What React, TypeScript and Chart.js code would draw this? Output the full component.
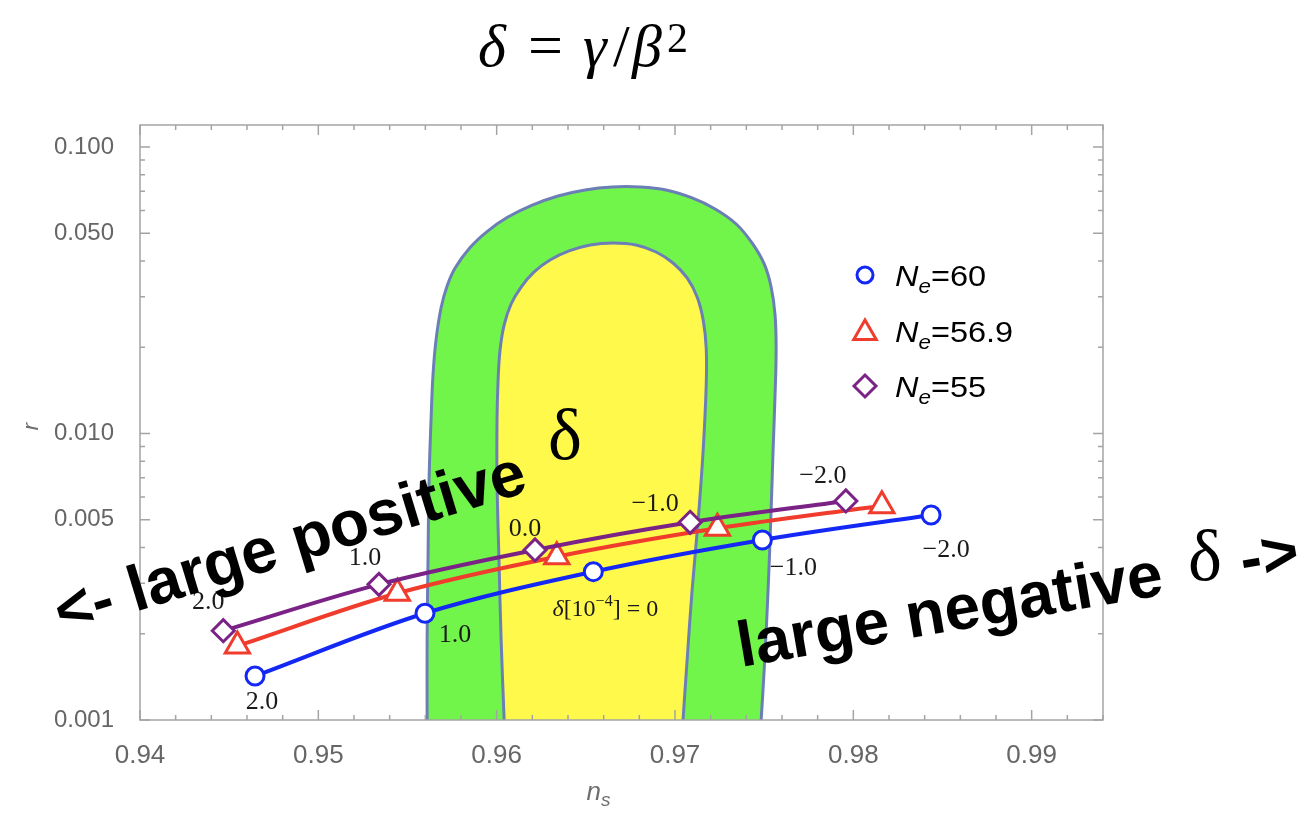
import { useEffect, useRef } from "react";
import { Chart, registerables } from "chart.js";

Chart.register(...registerables);

// delta in units of 1e-4 along each N_e trajectory
const deltaValues = [2.0, 1.0, 0.0, -1.0, -2.0];

// (n_s, r) predictions for N_e = 60, 56.9, 55
const nsNe60 = [0.94645, 0.95598, 0.96542, 0.9749, 0.98436];
const rNe60 = [0.001424, 0.002358, 0.003293, 0.00425, 0.005194];
const nsNe569 = [0.94546, 0.95443, 0.96337, 0.97238, 0.9816];
const rNe569 = [0.001813, 0.002769, 0.003715, 0.004667, 0.005598];
const nsNe55 = [0.94467, 0.9534, 0.96215, 0.97085, 0.97958];
const rNe55 = [0.002049, 0.002975, 0.003922, 0.004898, 0.005814];

// 95% CL region boundary (green)
const outerNs = [0.9561, 0.9561, 0.95615, 0.95621, 0.95632, 0.95643, 0.9566, 0.95688, 0.95722, 0.95767, 0.95851, 0.95946, 0.96058, 0.96193, 0.96344, 0.96496, 0.96647, 0.96804, 0.9695, 0.97096, 0.97225, 0.97343, 0.97432, 0.975, 0.97539, 0.97561, 0.97567, 0.97561, 0.9755, 0.97539, 0.97522, 0.975, 0.97483];
const outerR = [0.001, 0.0019024, 0.0036185, 0.0068814, 0.011145, 0.016005, 0.021206, 0.027418, 0.03272, 0.03781, 0.04457, 0.05067, 0.0567, 0.06246, 0.06745, 0.07078, 0.07251, 0.07251, 0.07078, 0.06638, 0.06076, 0.05385, 0.04623, 0.03905, 0.03245, 0.02592, 0.01956, 0.01362, 0.008757, 0.005407, 0.002843, 0.0014947, 0.001];

// 68% CL region boundary (yellow)
const innerNs = [0.96042, 0.96025, 0.96013, 0.96002, 0.96002, 0.96008, 0.96019, 0.96042, 0.96081, 0.96137, 0.9621, 0.96299, 0.96406, 0.96524, 0.96653, 0.96782, 0.96894, 0.96989, 0.97068, 0.97124, 0.97158, 0.97175, 0.97175, 0.97158, 0.9713, 0.97096, 0.97068, 0.97045];
const innerR = [0.001, 0.0019024, 0.0036185, 0.0068814, 0.011145, 0.015375, 0.01956, 0.02392, 0.02831, 0.03245, 0.03663, 0.04033, 0.04335, 0.0455, 0.04623, 0.0455, 0.043, 0.03936, 0.0349, 0.02995, 0.0249, 0.01988, 0.01477, 0.008757, 0.00499, 0.002843, 0.0016197, 0.001];

const xTicks = [0.94, 0.95, 0.96, 0.97, 0.98, 0.99];
const yTicks = [0.001, 0.005, 0.01, 0.05, 0.1];
const yMinorTicks = [0.002, 0.003, 0.004, 0.006, 0.007, 0.008, 0.009, 0.02, 0.03, 0.04, 0.06, 0.07, 0.08, 0.09];
const legendNe = ["60", "56.9", "55"];

const FRAME = "#a4a4a4";
const TICK_TEXT = "#666666";
const BLUE = "#1428f5";
const RED = "#f03c2c";
const PURPLE = "#7b2286";
const GREEN = "#72f54b";
const YELLOW = "#fff94c";
const EDGE = "#6b7fb6";

const SANS = '"Liberation Sans", Arial, sans-serif';
const SERIF = '"Liberation Serif", "Times New Roman", serif';

const toPoints = (xs: number[], ys: number[]) => xs.map((x, i) => ({ x, y: ys[i] }));

const fmtDelta = (v: number) => (v < 0 ? "\u2212" : "") + Math.abs(v).toFixed(1);

type Run = { t: string; font: string; dy?: number };

function runsWidth(ctx: CanvasRenderingContext2D, runs: Run[]) {
  let w = 0;
  for (const r of runs) {
    ctx.font = r.font;
    w += ctx.measureText(r.t).width;
  }
  return w;
}

function drawRuns(ctx: CanvasRenderingContext2D, runs: Run[], x: number, y: number, center: boolean, sx = 1) {
  ctx.save();
  ctx.translate(x, y);
  ctx.scale(sx, 1);
  ctx.textAlign = "left";
  ctx.textBaseline = "alphabetic";
  let cx = center ? -runsWidth(ctx, runs) / 2 : 0;
  for (const r of runs) {
    ctx.font = r.font;
    ctx.fillText(r.t, cx, r.dy || 0);
    cx += ctx.measureText(r.t).width;
  }
  ctx.restore();
}

function marker(ctx: CanvasRenderingContext2D, style: string, x: number, y: number, color: string) {
  ctx.save();
  ctx.strokeStyle = color;
  ctx.fillStyle = "#ffffff";
  ctx.lineWidth = 3;
  ctx.beginPath();
  if (style === "circle") {
    ctx.arc(x, y, 8, 0, Math.PI * 2);
  } else if (style === "triangle") {
    const r = 13;
    for (let i = 0; i < 3; i++) {
      const a = (i * 2 * Math.PI) / 3;
      const px = x + Math.sin(a) * r;
      const py = y - Math.cos(a) * r;
      if (i === 0) ctx.moveTo(px, py);
      else ctx.lineTo(px, py);
    }
    ctx.closePath();
  } else {
    const r = 11;
    ctx.moveTo(x - r, y);
    ctx.lineTo(x, y - r);
    ctx.lineTo(x + r, y);
    ctx.lineTo(x, y + r);
    ctx.closePath();
  }
  ctx.fill();
  ctx.stroke();
  ctx.restore();
}

// Fills the confidence regions beneath their outlines using the line's own path
const regionFill = {
  id: "regionFill",
  beforeDatasetDraw(chart: any, args: any) {
    const ds = chart.data.datasets[args.index];
    if (!ds.regionColor) return;
    const line = args.meta.dataset;
    const a = chart.chartArea;
    const ctx = chart.ctx as CanvasRenderingContext2D;
    ctx.save();
    ctx.beginPath();
    ctx.rect(a.left, a.top, a.right - a.left, a.bottom - a.top);
    ctx.clip();
    line.updateControlPoints(a, "x");
    ctx.beginPath();
    line.path(ctx);
    ctx.closePath();
    ctx.fillStyle = ds.regionColor;
    ctx.fill();
    ctx.restore();
  },
};

const decorations = {
  id: "decorations",
  afterDatasetsDraw(chart: any) {
    const ctx = chart.ctx as CanvasRenderingContext2D;
    const a = chart.chartArea;
    const xs = chart.scales.x;
    const ys = chart.scales.y;
    ctx.save();
    ctx.strokeStyle = FRAME;
    ctx.lineWidth = 1.5;
    ctx.beginPath();
    for (let k = 470; k <= 497; k++) {
      const px = xs.getPixelForValue(k / 500);
      const len = k % 5 === 0 ? 10 : 5;
      ctx.moveTo(px, a.bottom);
      ctx.lineTo(px, a.bottom - len);
      ctx.moveTo(px, a.top);
      ctx.lineTo(px, a.top + len);
    }
    const yt = (v: number, len: number) => {
      const py = ys.getPixelForValue(v);
      ctx.moveTo(a.left, py);
      ctx.lineTo(a.left + len, py);
      ctx.moveTo(a.right, py);
      ctx.lineTo(a.right - len, py);
    };
    yTicks.forEach((v) => yt(v, 10));
    yMinorTicks.forEach((v) => yt(v, 5));
    ctx.stroke();
    ctx.strokeRect(a.left, a.top, a.right - a.left, a.bottom - a.top);
    ctx.restore();

    // delta labels next to the N_e = 60 and N_e = 55 points
    const blue = chart.getDatasetMeta(2).data;
    const purple = chart.getDatasetMeta(4).data;
    const blueOffsets = [[7, 24], [30, 20], [12, 36], [31, 26], [15, 33]];
    const purpleOffsets = [[-15, -31], [-14, -28], [-10, -23], [-35, -20], [-23, -27]];
    ctx.save();
    ctx.fillStyle = "#1a1a1a";
    const labelFont = `26px ${SERIF}`;
    deltaValues.forEach((v, i) => {
      const pb = blue[i];
      const [bx, by] = blueOffsets[i];
      if (v === 0) {
        const f = `24px ${SERIF}`;
        drawRuns(
          ctx,
          [
            { t: "\u03b4", font: `italic 24px ${SERIF}` },
            { t: "[10", font: f },
            { t: "\u22124", font: `16px ${SERIF}`, dy: -10 },
            { t: "] = 0", font: f },
          ],
          pb.x + bx,
          pb.y + by + 8,
          true
        );
      } else {
        drawRuns(ctx, [{ t: fmtDelta(v), font: labelFont }], pb.x + bx, pb.y + by + 9, true);
      }
      const pp = purple[i];
      const [qx, qy] = purpleOffsets[i];
      drawRuns(ctx, [{ t: fmtDelta(v), font: labelFont }], pp.x + qx, pp.y + qy + 9, true);
    });
    ctx.restore();
  },
  afterDraw(chart: any) {
    const ctx = chart.ctx as CanvasRenderingContext2D;
    const a = chart.chartArea;
    ctx.save();

    // axis titles
    ctx.fillStyle = "#6e6e6e";
    drawRuns(
      ctx,
      [
        { t: "n", font: `italic 26px ${SANS}` },
        { t: "s", font: `italic 19px ${SANS}`, dy: 6 },
      ],
      (a.left + a.right) / 2 - 23,
      800,
      true
    );
    ctx.save();
    ctx.translate(32, (a.top + a.bottom) / 2 + 4);
    ctx.rotate(-Math.PI / 2);
    ctx.font = `italic 22px ${SANS}`;
    ctx.textAlign = "center";
    ctx.textBaseline = "middle";
    ctx.fillText("r", 0, 0);
    ctx.restore();

    // legend
    const styles = ["circle", "triangle", "rectRot"];
    const colors = [BLUE, RED, PURPLE];
    const markerY = [275, 333, 386];
    const baseY = [286, 342, 397];
    legendNe.forEach((ne, i) => {
      marker(ctx, styles[i], 865, markerY[i], colors[i]);
      ctx.fillStyle = "#000000";
      drawRuns(
        ctx,
        [
          { t: "N", font: `italic 29px ${SANS}` },
          { t: "e", font: `italic 20px ${SANS}`, dy: 7 },
          { t: "=" + ne, font: `29px ${SANS}` },
        ],
        895,
        baseY[i],
        false,
        1.12
      );
    });

    // title  δ = γ/β²
    ctx.fillStyle = "#000000";
    ctx.textAlign = "left";
    ctx.textBaseline = "alphabetic";
    ctx.font = `italic 60px ${SERIF}`;
    ctx.fillText("\u03b4", 478, 66);
    ctx.font = `62px ${SERIF}`;
    ctx.fillText("=", 528, 66);
    ctx.font = `italic 60px ${SERIF}`;
    ctx.fillText("\u03b3", 583, 66);
    ctx.font = `60px ${SERIF}`;
    ctx.fillText("/", 613, 66);
    ctx.font = `italic 60px ${SERIF}`;
    ctx.fillText("\u03b2", 632, 66);
    ctx.font = `42px ${SERIF}`;
    ctx.fillText("2", 667, 52);

    // direction annotations
    ctx.save();
    ctx.translate(62, 634);
    ctx.rotate((-17 * Math.PI) / 180);
    ctx.font = `bold 64px ${SANS}`;
    ctx.fillText("<- large positive", 0, 0);
    ctx.restore();
    ctx.font = `72px ${SERIF}`;
    ctx.textAlign = "center";
    ctx.fillText("\u03b4", 565, 459);

    ctx.save();
    ctx.translate(741, 667);
    ctx.rotate((-9.7 * Math.PI) / 180);
    ctx.font = `bold 64px ${SANS}`;
    ctx.textAlign = "left";
    ctx.fillText("large negative", 0, 0);
    ctx.fillText("->", 510, 0);
    ctx.restore();
    ctx.font = `72px ${SERIF}`;
    ctx.textAlign = "center";
    ctx.fillText("\u03b4", 1205, 580);

    ctx.restore();
  },
};

function seriesDataset(label: string, xs: number[], ys: number[], color: string, style: string, radius: number, order: number) {
  return {
    label,
    data: toPoints(xs, ys),
    borderColor: color,
    borderWidth: 4,
    cubicInterpolationMode: "monotone",
    pointStyle: style,
    pointRadius: radius,
    pointBorderWidth: 3,
    pointBorderColor: color,
    pointBackgroundColor: "#ffffff",
    fill: false,
    order,
  };
}

export default function App() {
  const ref = useRef<HTMLCanvasElement | null>(null);

  useEffect(() => {
    document.body.style.margin = "0";
    const canvas = ref.current;
    if (!canvas) return;
    const chart = new Chart(canvas, {
      type: "line",
      data: {
        datasets: [
          {
            label: "95% CL",
            data: toPoints(outerNs, outerR),
            borderColor: EDGE,
            borderWidth: 3,
            pointRadius: 0,
            tension: 0.4,
            fill: false,
            order: 6,
            regionColor: GREEN,
          } as any,
          {
            label: "68% CL",
            data: toPoints(innerNs, innerR),
            borderColor: EDGE,
            borderWidth: 3,
            pointRadius: 0,
            tension: 0.4,
            fill: false,
            order: 5,
            regionColor: YELLOW,
          } as any,
          seriesDataset("Ne=60", nsNe60, rNe60, BLUE, "circle", 9, 1) as any,
          seriesDataset("Ne=56.9", nsNe569, rNe569, RED, "triangle", 14, 3) as any,
          seriesDataset("Ne=55", nsNe55, rNe55, PURPLE, "rectRot", 11, 2) as any,
        ],
      },
      options: {
        responsive: false,
        animation: false,
        layout: { padding: { left: 40, right: 205, top: 125, bottom: 44 } },
        plugins: {
          legend: { display: false },
          tooltip: { enabled: false },
        },
        scales: {
          x: {
            type: "linear",
            min: 0.94,
            max: 0.994,
            afterBuildTicks: (s: any) => {
              s.ticks = xTicks.map((v) => ({ value: v }));
            },
            afterFit: (s: any) => {
              s.height = 50;
            },
            grid: { display: false },
            border: { display: false },
            ticks: {
              autoSkip: false,
              maxRotation: 0,
              padding: 12,
              color: TICK_TEXT,
              font: { family: "Liberation Sans", size: 26 },
              callback: (v: any) => Number(v).toFixed(2),
            },
          },
          y: {
            type: "logarithmic",
            min: 0.001,
            max: 0.1193,
            afterBuildTicks: (s: any) => {
              s.ticks = yTicks.map((v) => ({ value: v }));
            },
            afterFit: (s: any) => {
              s.width = 100;
            },
            grid: { display: false },
            border: { display: false },
            ticks: {
              autoSkip: false,
              padding: 18,
              color: TICK_TEXT,
              font: { family: "Liberation Sans", size: 24 },
              callback: (v: any) => Number(v).toFixed(3),
            },
          },
        },
      } as any,
      plugins: [regionFill, decorations],
    });
    return () => chart.destroy();
  }, []);

  return (
    <div style={{ width: 1308, height: 814 }}>
      <canvas ref={ref} width={1308} height={814} style={{ display: "block" }} />
    </div>
  );
}
